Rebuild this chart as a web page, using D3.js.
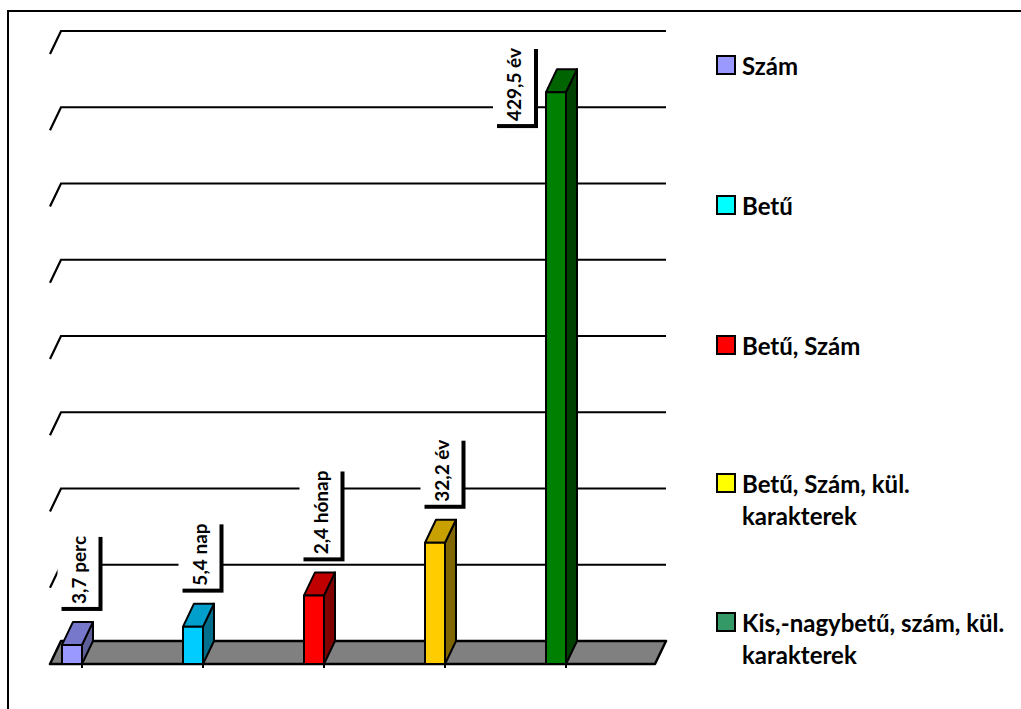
<!DOCTYPE html>
<html>
<head>
<meta charset="utf-8">
<script src="https://cdn.jsdelivr.net/npm/d3@7"></script>
<style>
  body { margin: 0; background: #fff; }
  svg { display: block; font-family: Lato, "Open Sans", sans-serif; font-weight: bold; }
</style>
</head>
<body>
<svg id="chart" width="1021" height="709"></svg>
<script>
// series (one bar each), value in chart units, and the data labels
const series = ['Szám', 'Betű', 'Betű, Szám', 'Betű, Szám, kül. karakterek', 'Kis,-nagybetű, szám, kül. karakterek'];
const values = [0.25, 0.49, 0.9, 1.59, 7.5];
const labels = ['3,7 perc', '5,4 nap', '2,4 hónap', '32,2 év', '429,5 év'];
const gridTicks = [1, 2, 3, 4, 5, 6, 7, 8];

const legendColor = ['#9999FF', '#00FFFF', '#FF0000', '#FFFF00', '#339966'];
const barFront = ['#9999FF', '#00CCFF', '#FF0000', '#FFCC00', '#008000'];
const barTop   = ['#7777CC', '#009FCC', '#C00000', '#C8A000', '#006400'];
const barSide  = ['#5E5E99', '#006F8C', '#800000', '#806600', '#004000'];

const depth = {dx: 11, dy: -23};
const floorFront = 664;

const svg = d3.select('#chart');

// frame (only top and left visible)
svg.append('path')
  .attr('d', 'M8,709 L8,11 L1021,11')
  .attr('fill', 'none')
  .attr('stroke', '#000')
  .attr('stroke-width', 2);

// x along the front edge of the floor, y on the back wall
const x = d3.scaleBand()
  .domain(series)
  .range([50, 655]);

const y = d3.scaleLinear()
  .domain([0, 8])
  .range([floorFront + depth.dy, 31]);

const backLeft = 50 + depth.dx;
const backRight = 655 + depth.dx;

// gridlines with slanted left ends
const grid = svg.append('g');
gridTicks.forEach(t => {
  grid.append('path')
    .attr('d', `M${50},${y(t) - depth.dy} L${backLeft},${y(t)} L${backRight},${y(t)}`)
    .attr('fill', 'none')
    .attr('stroke', '#000')
    .attr('stroke-width', 2.2);
});

// floor
svg.append('path')
  .attr('d', `M50,${floorFront} L655,${floorFront} L${backRight},${y(0)} L${backLeft},${y(0)} Z`)
  .attr('fill', '#808080')
  .attr('stroke', '#000')
  .attr('stroke-width', 2.5)
  .attr('stroke-linejoin', 'round');

// bars
const barW = 20;
const barX = (d) => x(d) + 12;
const frontTop = (v) => y(v) - depth.dy;

const bars = svg.append('g');
series.forEach((s, i) => {
  const x0 = barX(s), x1 = x0 + barW;
  const yt = frontTop(values[i]);
  const g = bars.append('g')
    .attr('stroke', '#000')
    .attr('stroke-width', 2)
    .attr('stroke-linejoin', 'round');
  // small tick under the floor
  g.append('line')
    .attr('x1', x1).attr('x2', x1)
    .attr('y1', floorFront).attr('y2', floorFront + 4);
  g.append('path')
    .attr('d', `M${x1},${yt} L${x1 + depth.dx},${yt + depth.dy} L${x1 + depth.dx},${floorFront + depth.dy} L${x1},${floorFront} Z`)
    .attr('fill', barSide[i]);
  g.append('path')
    .attr('d', `M${x0},${yt} L${x0 + depth.dx},${yt + depth.dy} L${x1 + depth.dx},${yt + depth.dy} L${x1},${yt} Z`)
    .attr('fill', barTop[i]);
  g.append('rect')
    .attr('x', x0).attr('y', yt)
    .attr('width', barW).attr('height', floorFront - yt)
    .attr('fill', barFront[i]);
});

// data labels: vertical text in a white box with a black shadow
const boxW = 41, shadow = 4, plotTop = 45;
const lab = svg.append('g');
series.forEach((s, i) => {
  const t = lab.append('text')
    .attr('font-size', 19)
    .attr('text-anchor', 'middle')
    .attr('dominant-baseline', 'central')
    .text(labels[i]);
  const len = t.node().getComputedTextLength();
  const boxH = len + 6;
  let bx = barX(s) + 16 - boxW / 2;
  let bottom = frontTop(values[i]) + depth.dy - 15;
  let top = bottom - boxH;
  if (top < plotTop) {
    // no room above the bar: move the label to its left
    top = plotTop;
    bx = barX(s) - 53;
  }
  lab.insert('rect', 'text')
    .attr('x', bx + shadow).attr('y', top + shadow)
    .attr('width', boxW).attr('height', boxH)
    .attr('fill', '#000');
  lab.insert('rect', 'text')
    .attr('x', bx).attr('y', top)
    .attr('width', boxW).attr('height', boxH)
    .attr('fill', '#fff');
  const cx = bx + boxW / 2, cy = top + boxH / 2;
  t.attr('transform', `translate(${cx},${cy}) rotate(-90)`);
});

// legend
const legendY = [65, 205, 345, 483, 622];
const legend = svg.append('g').attr('font-size', 24);
series.forEach((s, i) => {
  const g = legend.append('g').attr('transform', `translate(717,${legendY[i]})`);
  g.append('rect')
    .attr('x', 0).attr('y', -9)
    .attr('width', 18).attr('height', 18)
    .attr('fill', legendColor[i])
    .attr('stroke', '#000')
    .attr('stroke-width', 2);
  const text = g.append('text')
    .attr('x', 25)
    .attr('dominant-baseline', 'central');
  // wrap words to the space left at the right
  const words = s.split(' ');
  let line = [], lineNo = 0;
  let tspan = text.append('tspan').attr('x', 25).attr('y', 0);
  words.forEach(w => {
    line.push(w);
    tspan.text(line.join(' '));
    if (tspan.node().getComputedTextLength() > 274 && line.length > 1) {
      line.pop();
      tspan.text(line.join(' '));
      line = [w];
      lineNo++;
      tspan = text.append('tspan').attr('x', 25).attr('y', lineNo * 32).text(w);
    }
  });
});
</script>
</body>
</html>
